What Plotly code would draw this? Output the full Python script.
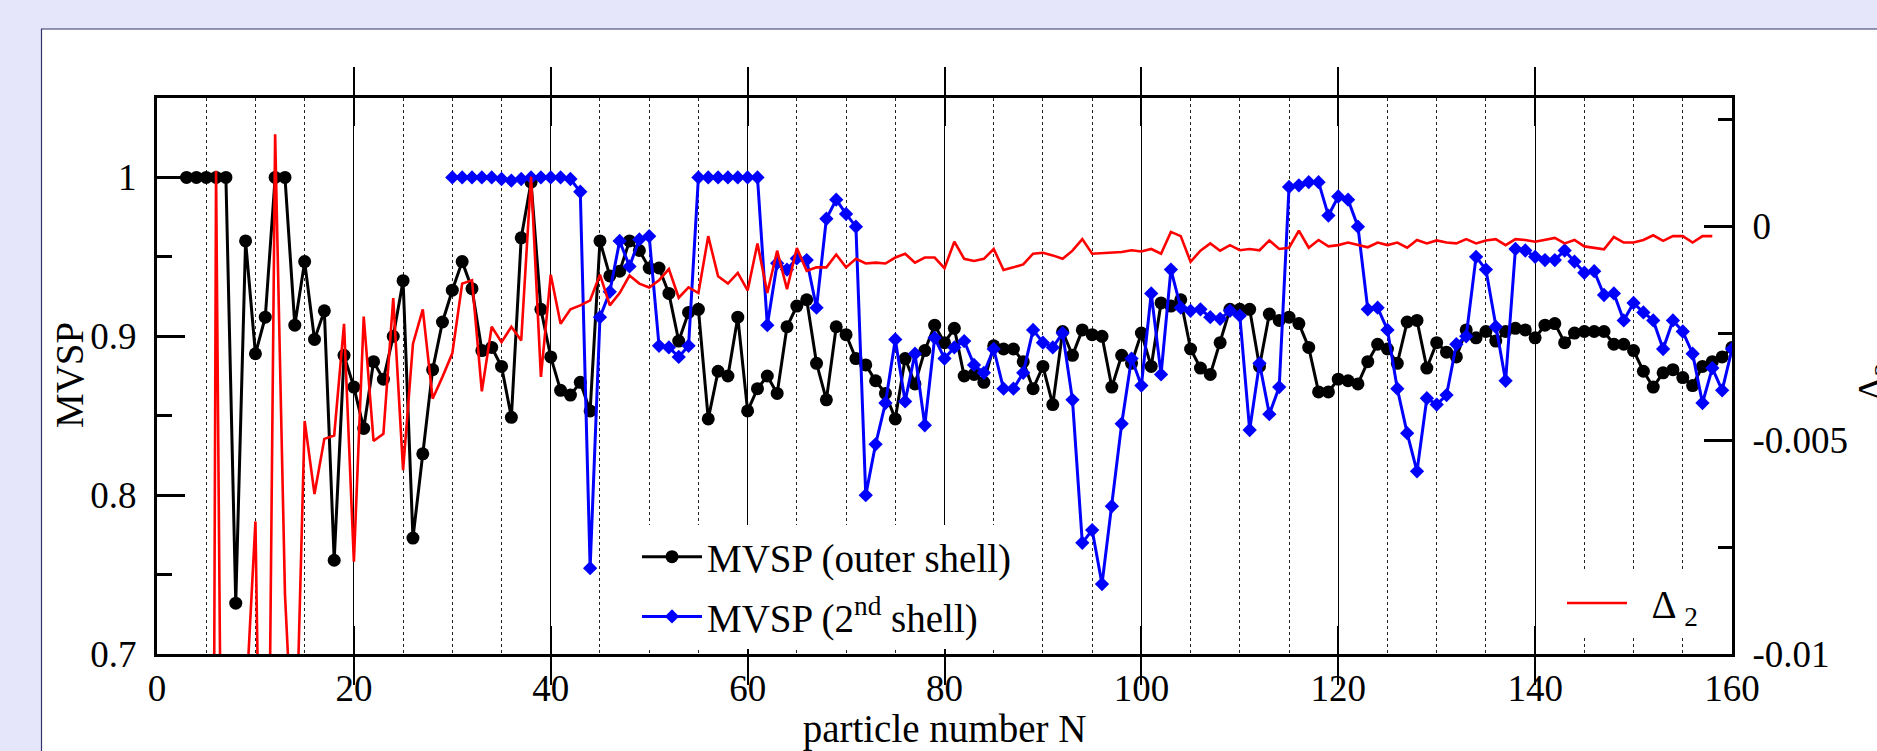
import plotly.graph_objects as go

# ---------------- data ----------------
N_outer = list(range(3, 161))
mvsp_outer = [
    1.0, 1.0, 1.0, 1.0, 1.0, 0.732, 0.960, 0.889, 0.912, 1.0,
    1.0, 0.907, 0.947, 0.898, 0.916, 0.759, 0.888, 0.868, 0.842, 0.884,
    0.873, 0.900, 0.935, 0.773, 0.826, 0.879, 0.909, 0.929, 0.947, 0.930,
    0.891, 0.893, 0.881, 0.849, 0.962, 0.997, 0.917, 0.887, 0.866, 0.863,
    0.871, 0.853, 0.960, 0.938, 0.941, 0.960, 0.954, 0.943, 0.943, 0.927,
    0.897, 0.915, 0.917, 0.848, 0.878, 0.875, 0.912, 0.853, 0.867, 0.875,
    0.864, 0.906, 0.919, 0.923, 0.883, 0.860, 0.906, 0.901, 0.886, 0.882,
    0.872, 0.864, 0.848, 0.886, 0.870, 0.891, 0.907, 0.896, 0.905, 0.875,
    0.876, 0.871, 0.894, 0.892, 0.892, 0.884, 0.867, 0.881, 0.857, 0.903,
    0.888, 0.904, 0.901, 0.900, 0.868, 0.888, 0.883, 0.902, 0.881, 0.921,
    0.919, 0.923, 0.892, 0.880, 0.876, 0.896, 0.917, 0.917, 0.917, 0.881,
    0.914, 0.910, 0.912, 0.908, 0.893, 0.865, 0.865, 0.873, 0.872, 0.870,
    0.884, 0.895, 0.892, 0.883, 0.909, 0.910, 0.880, 0.896, 0.890, 0.887,
    0.904, 0.899, 0.903, 0.897, 0.903, 0.905, 0.904, 0.899, 0.907, 0.908,
    0.896, 0.902, 0.903, 0.903, 0.903, 0.895, 0.895, 0.891, 0.878, 0.868,
    0.877, 0.879, 0.874, 0.869, 0.881, 0.884, 0.887, 0.893,
]

N_second = list(range(30, 161))
mvsp_second = [
    1.0, 1.0, 1.0, 1.0, 1.0, 0.999, 0.998, 0.999, 1.0, 1.0,
    1.0, 1.0, 0.999, 0.991, 0.754, 0.912, 0.928, 0.960, 0.944, 0.961,
    0.963, 0.894, 0.893, 0.887, 0.894, 1.0, 1.0, 1.0, 1.0, 1.0,
    1.0, 1.0, 0.907, 0.946, 0.942, 0.949, 0.948, 0.918, 0.974, 0.986,
    0.977, 0.969, 0.800, 0.832, 0.858, 0.898, 0.859, 0.889, 0.844, 0.899,
    0.886, 0.893, 0.897, 0.882, 0.877, 0.892, 0.867, 0.867, 0.877, 0.904,
    0.896, 0.893, 0.902, 0.860, 0.770, 0.778, 0.744, 0.793, 0.845, 0.886,
    0.869, 0.927, 0.876, 0.942, 0.918, 0.916, 0.917, 0.912, 0.911, 0.916,
    0.913, 0.841, 0.883, 0.851, 0.868, 0.994, 0.995, 0.997, 0.997, 0.976,
    0.988, 0.986, 0.969, 0.917, 0.918, 0.904, 0.867, 0.839, 0.815, 0.861,
    0.857, 0.863, 0.895, 0.900, 0.950, 0.942, 0.906, 0.872, 0.955, 0.954,
    0.950, 0.948, 0.948, 0.954, 0.947, 0.940, 0.941, 0.926, 0.927, 0.910,
    0.921, 0.915, 0.910, 0.892, 0.910, 0.903, 0.889, 0.858, 0.880, 0.866,
    0.892,
]

N_delta = list(range(5, 159))
delta2 = [
    -0.06, 0.0013, -0.027, -0.02, -0.0113, -0.0069, -0.022, 0.00215, -0.0086, -0.0133,
    -0.00455, -0.00626, -0.00497, -0.00489, -0.00228, -0.00784, -0.00211, -0.00502, -0.00485, -0.00168,
    -0.0057, -0.00275, -0.00194, -0.00403, -0.00352, -0.00297, -0.00134, -0.00126, -0.00386, -0.00235,
    -0.00271, -0.00235, -0.00267, 0.00116, -0.00352, -0.00113, -0.00228, -0.00194, -0.00185, -0.00173,
    -0.00113, -0.00185, -0.00156, -0.00115, -0.00134, -0.00143, -0.00126, -0.0010, -0.00167, -0.00143,
    -0.00156, -0.00023, -0.00117, -0.00134, -0.00109, -0.0015, -0.0004, -0.00156, -0.00057, -0.00147,
    -0.00051, -0.00104, -0.00096, -0.00096, -0.00066, -0.00096, -0.00076, -0.00087, -0.00085, -0.00087,
    -0.00073, -0.00064, -0.00085, -0.00073, -0.00073, -0.00098, -0.00036, -0.00076, -0.00081, -0.00076,
    -0.00053, -0.00102, -0.00096, -0.00089, -0.00064, -0.00062, -0.00068, -0.00076, -0.00057, -0.0003,
    -0.00064, -0.00063, -0.00061, -0.0006, -0.00056, -0.00059, -0.00053, -0.00064, -0.00013, -0.00023,
    -0.00083, -0.00057, -0.0004, -0.00057, -0.00044, -0.00056, -0.00053, -0.00056, -0.00033, -0.00053,
    -0.0005, -0.0001, -0.0005, -0.00032, -0.00047, -0.00044, -0.00038, -0.00044, -0.00049, -0.00038,
    -0.00044, -0.00038, -0.0005, -0.00032, -0.0004, -0.00033, -0.00038, -0.0004, -0.0003, -0.0004,
    -0.00033, -0.0003, -0.00044, -0.0003, -0.00032, -0.00036, -0.00032, -0.00027, -0.0004, -0.00032,
    -0.00047, -0.0005, -0.00054, -0.00025, -0.00038, -0.00038, -0.00032, -0.00021, -0.00034, -0.00023,
    -0.00023, -0.00038, -0.00023, -0.00023,
]

x_tickvals = [0, 20, 40, 60, 80, 100, 120, 140, 160]
x_ticktext = ["0", "20", "40", "60", "80", "100", "120", "140", "160"]
left_tickvals = [0.7, 0.8, 0.9, 1.0]
left_ticktext = ["0.7", "0.8", "0.9", "1"]
left_minor = [0.75, 0.85, 0.95]
right_tickvals = [-0.01, -0.005, 0.0]
right_ticktext = ["-0.01", "-0.005", "0"]
right_minor = [-0.0075, -0.0025, 0.0025]

# ---------------- layout geometry ----------------
W, H = 1877, 751
ML, MR, MT, MB = 157, 145, 98, 89
PW, PH = W - ML - MR, H - MT - MB
FONT = "Liberation Serif"


def px_x(px):
    return (px - ML) / PW


def px_y(py):
    return (H - MB - py) / PH


fig = go.Figure()

fig.add_trace(go.Scatter(
    x=N_outer, y=mvsp_outer, mode="lines+markers", name="MVSP (outer shell)",
    line=dict(color="black", width=3),
    marker=dict(symbol="circle", size=13, color="black"),
    legend="legend", legendgroup="outer",
))
fig.add_trace(go.Scatter(
    x=N_second, y=mvsp_second, mode="lines+markers", name="MVSP (2<sup>nd</sup> shell)",
    line=dict(color="#0000ff", width=3),
    marker=dict(symbol="diamond", size=11, color="#0000ff"),
    legend="legend", legendgroup="second",
))
fig.add_trace(go.Scatter(
    x=N_delta, y=delta2, mode="lines", name="\u00a0\u00a0Δ <sub>2</sub>",
    line=dict(color="#ff0000", width=2.6),
    yaxis="y2", legend="legend2",
))

fig.update_layout(
    width=W, height=H,
    margin=dict(l=ML, r=MR, t=MT, b=MB, pad=0),
    paper_bgcolor="#e6e6fa",
    plot_bgcolor="white",
    font=dict(family=FONT, size=37, color="black"),
    showlegend=True,
    xaxis=dict(
        range=[0, 160], tickmode="array", tickvals=x_tickvals, ticktext=x_ticktext,
        ticks="inside", ticklen=28, tickwidth=2, tickcolor="black",
        showline=True, linewidth=3, linecolor="black", mirror="allticks",
        showgrid=True, gridcolor="black", gridwidth=1,
        minor=dict(dtick=5, tick0=0, showgrid=True, gridcolor="#222222", gridwidth=1,
                   griddash="dot", ticks=""),
        zeroline=False,
        tickfont=dict(family=FONT, size=37),
        title=dict(text="particle number N", font=dict(family=FONT, size=39), standoff=2),
    ),
    yaxis=dict(
        range=[0.7, 1.05], tickmode="array", tickvals=left_tickvals, ticktext=left_ticktext,
        ticks="inside", ticklen=28, tickwidth=2.5, tickcolor="black",
        minor=dict(tickmode="array", tickvals=left_minor, ticks="inside", ticklen=15,
                   tickwidth=2.5, tickcolor="black", showgrid=False),
        showline=True, linewidth=3, linecolor="black", mirror=True,
        showgrid=False, zeroline=False,
        ticklabelstandoff=10,
        tickfont=dict(family=FONT, size=37),
    ),
    yaxis2=dict(
        overlaying="y", side="right", anchor="x",
        range=[-0.01, 0.003], tickmode="array", tickvals=right_tickvals, ticktext=right_ticktext,
        ticks="inside", ticklen=28, tickwidth=2.5, tickcolor="black",
        minor=dict(tickmode="array", tickvals=right_minor, ticks="inside", ticklen=14,
                   tickwidth=2.5, tickcolor="black", showgrid=False),
        showline=True, linewidth=3, linecolor="black",
        showgrid=False, zeroline=False,
        ticklabelstandoff=10,
        tickfont=dict(family=FONT, size=37),
    ),
    legend=dict(
        x=px_x(637), y=px_y(531), xanchor="left", yanchor="top",
        bgcolor="white", borderwidth=0, itemwidth=60,
        font=dict(family=FONT, size=39, color="black"), tracegroupgap=6,
    ),
    legend2=dict(
        x=px_x(1562), y=px_y(578), xanchor="left", yanchor="top",
        bgcolor="white", borderwidth=0, itemwidth=60,
        font=dict(family=FONT, size=39, color="black"),
    ),
    shapes=[
        dict(type="rect", xref="paper", yref="paper",
             x0=px_x(41.5), x1=px_x(W + 40), y0=px_y(H + 40), y1=px_y(28),
             fillcolor="white", line=dict(color="#33336b", width=1.2), layer="below"),
    ],
    annotations=[
        # left axis title
        dict(text="MVSP", xref="paper", yref="paper",
             x=px_x(69), y=px_y(379), xanchor="center", yanchor="middle",
             textangle=-90, showarrow=False, font=dict(family=FONT, size=39, color="black")),
        # right axis title (mostly beyond the right edge, as in the reference)
        dict(text="Δ<sub>2</sub>", xref="paper", yref="paper",
             x=px_x(1848), y=px_y(386), xanchor="left", yanchor="middle",
             textangle=-90, showarrow=False, font=dict(family=FONT, size=39, color="black")),
    ],
)

fig.write_html("out.html")
